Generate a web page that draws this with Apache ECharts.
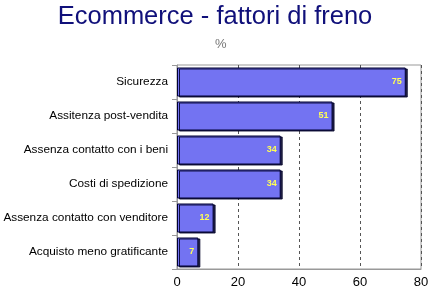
<!DOCTYPE html>
<html><head><meta charset="utf-8">
<script src="https://cdn.jsdelivr.net/npm/echarts@6/dist/echarts.min.js"></script>
<style>html,body{margin:0;padding:0;background:#fff}#c{width:430px;height:296px}</style>
</head><body><div id="c"></div>
<script>
var categories = ["Sicurezza","Assitenza post-vendita","Assenza contatto con i beni","Costi di spedizione","Assenza contatto con venditore","Acquisto meno gratificante"];
var values = [75,51,34,34,12,7];
var xTicks = [0,20,40,60,80];

var chart = echarts.init(document.getElementById('c'), null, {renderer:'canvas'});
chart.setOption({
  animation:false,
  backgroundColor:'#fff',
  title:[{text:'Ecommerce - fattori di freno', left:'center', top:-1,
    textStyle:{fontFamily:'Liberation Sans, Arial', fontSize:25.5, fontWeight:'normal', color:'#10107a'}},
    {text:'%', left:210, top:33, textStyle:{fontFamily:'Liberation Sans, Arial', fontSize:13, fontWeight:'normal', color:'#777'}}],
  grid:{left:177, right:9, top:65, bottom:27, show:true, borderColor:'#999', borderWidth:1,
    outerBoundsMode:'none', containLabel:false},
  xAxis:{type:'value', min:0, max:80, interval:20,
    axisLine:{show:true, lineStyle:{color:'#999'}},
    axisTick:{show:false},
    axisLabel:{fontFamily:'Liberation Sans, Arial', fontSize:13, color:'#000', margin:7},
    splitLine:{show:true, lineStyle:{color:'#555', type:[3,3], width:1}}},
  yAxis:{type:'category', data:categories, inverse:true,
    axisLine:{show:true, lineStyle:{color:'#999'}},
    axisTick:{show:true, alignWithLabel:false, lineStyle:{color:'#999'}},
    axisLabel:{fontFamily:'Liberation Sans, Arial', fontSize:11.8, color:'#000', margin:9}},
  series:[{type:'bar', data:values, barWidth:29,
    itemStyle:{color:'#7373f2', borderColor:'#000033', borderWidth:1,
      shadowColor:'rgba(0,0,40,0.85)', shadowOffsetX:2, shadowOffsetY:1, shadowBlur:0},
    label:{show:true, position:'insideRight', distance:4, color:'#ffff55', fontWeight:'bold',
      fontFamily:'Liberation Sans, Arial', fontSize:9}}]
});
</script></body></html>
